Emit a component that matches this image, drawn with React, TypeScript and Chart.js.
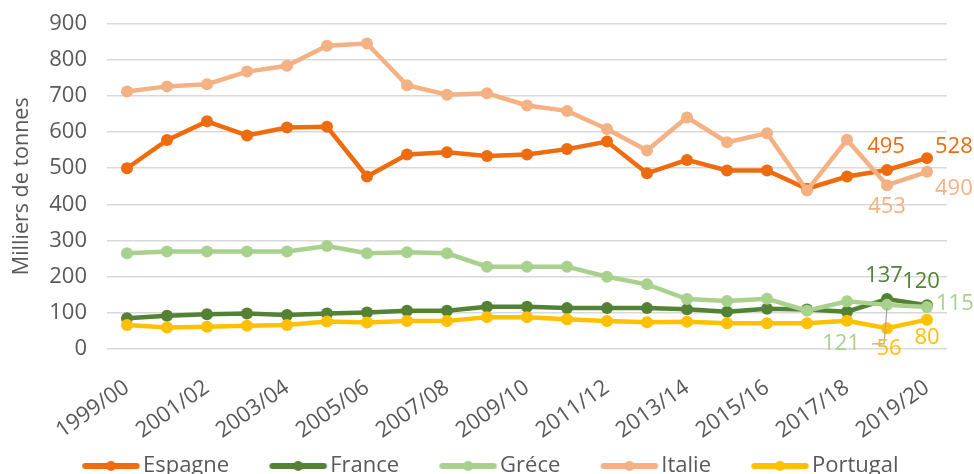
import React, { useEffect, useRef } from "react";
import { Chart, registerables } from "chart.js";

Chart.register(...registerables);

const categories = [
  "1999/00", "2000/01", "2001/02", "2002/03", "2003/04", "2004/05", "2005/06",
  "2006/07", "2007/08", "2008/09", "2009/10", "2010/11", "2011/12", "2012/13",
  "2013/14", "2014/15", "2015/16", "2016/17", "2017/18", "2018/19", "2019/20",
];

const espagne = [500, 578, 630, 591, 613, 615, 477, 538, 544, 534, 538, 553, 574, 486, 523, 494, 494, 443, 477, 495, 528];
const france = [84, 91, 95, 97, 93, 97, 100, 105, 105, 116, 116, 112, 112, 112, 109, 102, 110, 108, 102, 137, 120];
const grece = [264, 269, 269, 269, 269, 284, 264, 267, 264, 227, 227, 227, 199, 178, 137, 132, 138, 105, 131, 121, 115];
const italie = [713, 727, 733, 768, 784, 840, 846, 730, 704, 708, 674, 659, 609, 549, 641, 572, 597, 438, 579, 453, 490];
const portugal = [65, 58, 60, 63, 65, 75, 72, 76, 76, 87, 87, 81, 76, 73, 74, 70, 70, 70, 77, 56, 80];

const seriesNames = ["Espagne", "France", "Gréce", "Italie", "Portugal"];
const seriesData = [espagne, france, grece, italie, portugal];
const seriesColors = ["#EE6C0E", "#548235", "#A9D18E", "#F4B183", "#FFC000"];

const yTitle = "Milliers de tonnes";
const FONT = "'Open Sans', Lato, sans-serif";
const GREY = "#595959";

// data labels: which points get a value label, and how it is placed
const labelSpecs = [
  { ds: 0, idx: 19, dx: -1, dy: -23, align: "center" },
  { ds: 0, idx: 20, dx: 8, dy: -11, align: "left" },
  { ds: 3, idx: 19, dx: 0, dy: 22, align: "center" },
  { ds: 3, idx: 20, dx: 8, dy: 17, align: "left" },
  { ds: 1, idx: 19, dx: -3, dy: -23, align: "center" },
  { ds: 1, idx: 20, dx: -6, dy: -23, align: "center" },
  { ds: 2, idx: 20, dx: 9, dy: -3, align: "left" },
  { ds: 2, idx: 19, dx: -27, dy: 39, align: "right", leader: true },
  { ds: 4, idx: 19, dx: 2, dy: 20, align: "center" },
  { ds: 4, idx: 20, dx: 0, dy: 18, align: "center" },
];

function legendIcon(color: string) {
  const c = document.createElement("canvas");
  c.width = 100;
  c.height = 16;
  const ctx = c.getContext("2d")!;
  ctx.strokeStyle = color;
  ctx.lineWidth = 6;
  ctx.lineCap = "round";
  ctx.beginPath();
  ctx.moveTo(41, 8);
  ctx.lineTo(92.5, 8);
  ctx.stroke();
  ctx.fillStyle = color;
  ctx.beginPath();
  ctx.arc(66.75, 8, 5, 0, Math.PI * 2);
  ctx.fill();
  return c;
}

const dataLabelPlugin = {
  id: "dataLabels",
  afterDatasetsDraw(chart: any) {
    const ctx = chart.ctx;
    ctx.save();
    ctx.font = `22px ${FONT}`;
    ctx.textBaseline = "middle";
    for (const s of labelSpecs) {
      const meta = chart.getDatasetMeta(s.ds);
      const pt = meta.data[s.idx];
      if (!pt) continue;
      const value = seriesData[s.ds][s.idx];
      const x = pt.x + s.dx;
      const y = pt.y + s.dy;
      if (s.leader) {
        ctx.strokeStyle = "#A6A6A6";
        ctx.lineWidth = 1.2;
        ctx.beginPath();
        ctx.moveTo(pt.x, pt.y + 3);
        ctx.lineTo(pt.x - 3, y);
        ctx.lineTo(pt.x - 15, y);
        ctx.stroke();
      }
      ctx.fillStyle = seriesColors[s.ds];
      ctx.textAlign = s.align;
      ctx.fillText(String(value), x, y);
    }
    ctx.restore();
  },
};

export default function App() {
  const ref = useRef<HTMLCanvasElement | null>(null);

  useEffect(() => {
    document.body.style.margin = "0";
    const icons = seriesColors.map(legendIcon);
    const chart = new Chart(ref.current!, {
      type: "line",
      data: {
        labels: categories,
        datasets: seriesNames.map((name, i) => ({
          label: name,
          data: seriesData[i],
          borderColor: seriesColors[i],
          backgroundColor: seriesColors[i],
          borderWidth: 4.5,
          pointRadius: 6,
          pointBorderWidth: 0,
          pointBackgroundColor: seriesColors[i],
          tension: 0,
          order: seriesNames.length - 1 - i,
        })),
      },
      options: {
        responsive: false,
        animation: false,
        devicePixelRatio: 1,
        layout: { padding: { top: 24, right: 27, left: 8, bottom: -13 } },
        plugins: {
          tooltip: { enabled: false },
          legend: {
            position: "bottom",
            labels: {
              usePointStyle: true,
              pointStyleWidth: 75.5,
              padding: 14.5,
              color: GREY,
              font: { family: FONT, size: 22 },
              sort: (a: any, b: any) => a.datasetIndex - b.datasetIndex,
              generateLabels: (c: any) => {
                const items = (Chart.defaults.plugins.legend.labels as any).generateLabels(c);
                items.forEach((it: any) => {
                  it.pointStyle = icons[it.datasetIndex];
                  it.lineWidth = 0;
                });
                return items;
              },
            },
          },
        },
        scales: {
          x: {
            offset: true,
            grid: { display: false },
            border: { display: false },
            ticks: {
              autoSkip: false,
              minRotation: 35,
              maxRotation: 35,
              padding: 18,
              color: GREY,
              font: { family: FONT, size: 22 },
              callback: (_v: any, i: number) => (i % 2 === 0 ? categories[i] : ""),
            },
            afterFit: (s: any) => {
              s.height = 92;
            },
          },
          y: {
            min: 0,
            max: 900,
            ticks: {
              stepSize: 100,
              padding: 10.8,
              color: GREY,
              font: { family: FONT, size: 22 },
            },
            grid: {
              color: "#D9D9D9",
              lineWidth: 1.5,
              drawTicks: true,
              tickLength: 9.2,
              tickColor: "rgba(0,0,0,0)",
            },
            border: { display: false },
            title: {
              display: true,
              text: yTitle,
              color: GREY,
              font: { family: FONT, size: 21.5 },
              padding: { top: 1, bottom: 0 },
            },
            afterFit: (s: any) => {
              s.width = 99;
            },
          },
        },
      },
      plugins: [dataLabelPlugin],
    } as any);
    return () => chart.destroy();
  }, []);

  return (
    <div style={{ width: 974, height: 474 }}>
      <canvas ref={ref} width={974} height={474} />
    </div>
  );
}
